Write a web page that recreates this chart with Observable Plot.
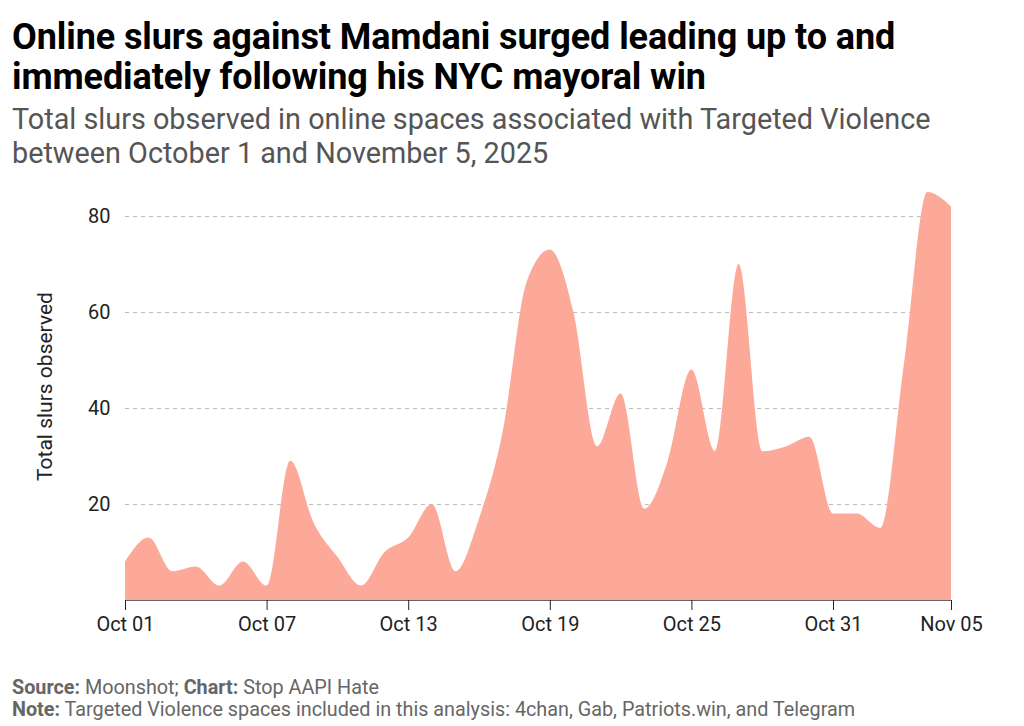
<!DOCTYPE html>
<html>
<head>
<meta charset="utf-8">
<script src="https://cdn.jsdelivr.net/npm/d3@7"></script>
<script src="https://cdn.jsdelivr.net/npm/@observablehq/plot@0.6"></script>
<style>
  html, body { margin: 0; padding: 0; background: #fff; }
  body { width: 1024px; height: 726px; position: relative; overflow: hidden; font-family: Roboto, "Noto Sans", sans-serif; }
  #title { position: absolute; left: 12px; top: 17px; font-weight: 700; font-size: 36px; line-height: 40px; color: #000; letter-spacing: -0.1px; white-space: nowrap; }
  #subtitle { position: absolute; left: 12px; top: 102px; font-size: 28.8px; line-height: 34px; color: #555; white-space: nowrap; }
  #chart { position: absolute; left: 0; top: 180px; }
  #footer { position: absolute; left: 12px; top: 677px; font-size: 19.8px; line-height: 22px; color: #666; white-space: nowrap; }
  #footer b { font-weight: 700; }
</style>
</head>
<body>
<div id="title">Online slurs against Mamdani surged leading up to and<br>immediately following his NYC mayoral win</div>
<div id="subtitle">Total slurs observed in online spaces associated with Targeted Violence<br>between October 1 and November 5, 2025</div>
<div id="chart"></div>
<div id="footer"><b>Source:</b> Moonshot; <b>Chart:</b> Stop AAPI Hate<br><b>Note:</b> Targeted Violence spaces included in this analysis: 4chan, Gab, Patriots.win, and Telegram</div>
<script>
const dates = [
  "2025-10-01","2025-10-02","2025-10-03","2025-10-04","2025-10-05","2025-10-06",
  "2025-10-07","2025-10-08","2025-10-09","2025-10-10","2025-10-11","2025-10-12",
  "2025-10-13","2025-10-14","2025-10-15","2025-10-16","2025-10-17","2025-10-18",
  "2025-10-19","2025-10-20","2025-10-21","2025-10-22","2025-10-23","2025-10-24",
  "2025-10-25","2025-10-26","2025-10-27","2025-10-28","2025-10-29","2025-10-30",
  "2025-10-31","2025-11-01","2025-11-02","2025-11-03","2025-11-04","2025-11-05"
];
const slurs = [
  8, 13, 6, 7, 3, 8,
  3, 29, 16, 9, 3, 10,
  13, 20, 6, 17, 35, 66,
  73, 60, 32, 43, 19, 29,
  48, 31, 70, 31, 32, 34,
  18, 18, 15, 49, 85, 82
];
const xTickDates = ["2025-10-01","2025-10-07","2025-10-13","2025-10-19","2025-10-25","2025-10-31","2025-11-05"];
const yTicks = [20, 40, 60, 80];

const data = dates.map((d, i) => ({date: new Date(d + "T00:00:00Z"), value: slurs[i]}));
const xTicks = xTickDates.map(d => new Date(d + "T00:00:00Z"));
const fmt = d3.utcFormat("%b %d");

const chart = Plot.plot({
  width: 1024,
  height: 460,
  marginLeft: 125,
  marginRight: 73,
  marginTop: 12,
  marginBottom: 40,
  style: {fontFamily: "Roboto, sans-serif", fontSize: "20px", color: "#222", background: "#fff"},
  x: {type: "utc", domain: [xTicks[0], xTicks[xTicks.length - 1]]},
  y: {domain: [0, 85]},
  marks: [
    Plot.gridY(yTicks, {stroke: "#bbb", strokeOpacity: 1, strokeDasharray: "4,4"}),
    Plot.areaY(data, {x: "date", y: "value", curve: "monotone-x", fill: "#fca999"}),
    Plot.ruleY([0], {stroke: "#666", strokeWidth: 1.2}),
    Plot.axisX(xTicks, {tickFormat: fmt, tickSize: 10, tickPadding: 6, stroke: "#222", fill: "#222", fontSize: 20, label: null}),
    Plot.axisY(yTicks, {tickSize: 0, tickPadding: 15, fill: "#222", fontSize: 20, label: null}),
    Plot.text(["Total slurs observed"], {frameAnchor: "left", dx: -80, dy: -10, rotate: -90, fontSize: 21, fill: "#222", textAnchor: "middle"})
  ]
});
document.getElementById("chart").appendChild(chart);
</script>
</body>
</html>
